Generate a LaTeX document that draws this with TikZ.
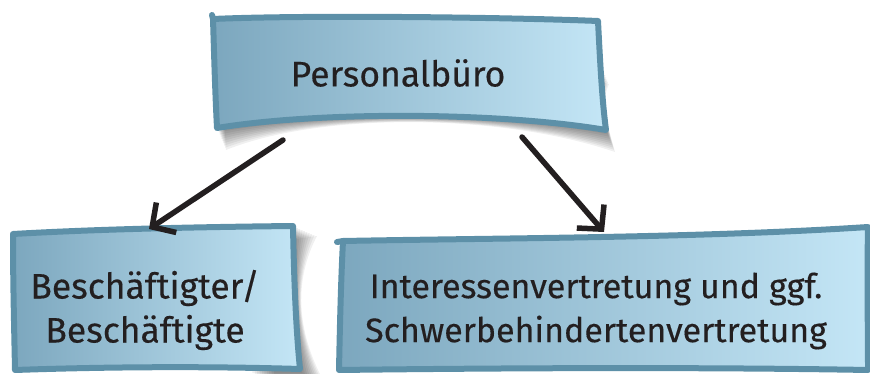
\documentclass[tikz,border=0pt]{standalone}
\usepackage{fontspec}
\setmainfont{Fira Sans}[UprightFeatures={FakeBold=0.3}]
\usetikzlibrary{arrows.meta}
\definecolor{bdr}{RGB}{93,144,168}
\definecolor{fleft}{RGB}{124,167,190}
\definecolor{fright}{RGB}{196,230,246}
\definecolor{ink}{RGB}{35,31,32}
\tikzset{
  boxshape/.style={left color=fleft, right color=fright, draw=bdr, line width=6pt, line join=round, line cap=round},
  shadowpart/.style={fill=black, opacity=0.06},
  lbl/.style={text=ink, align=center, inner sep=0pt},
  conn/.style={draw=ink, line width=5.5pt, line cap=round, -{Straight Barb[length=17pt,width=36pt,line width=5.5pt]}}
}
\begin{document}
\begin{tikzpicture}[x=1pt,y=-1pt]
\useasboundingbox (0,0) rectangle (870,374);
% shadows
\foreach \i in {1,...,10}{
  \fill[shadowpart] ([shift={(\i*0.9,\i*2.2)}]213,60) .. controls (300,58) and (500,58) .. ([shift={(\i*0.9,\i*2.2)}]600,62) .. controls (602,100) and (603,110) .. ([shift={(\i*0.9,\i*2.2)}]606,130) .. controls (500,113) and (320,112) .. ([shift={(\i*0.9,\i*2.2)}]217,128) -- cycle;
  \fill[shadowpart] ([shift={(\i*2.4,\i*1)}]250,232) -- ([shift={(\i*2.4,\i*1)}]293,226) .. controls (294,280) and (296,330) .. ([shift={(\i*2.4,\i*1)}]300,372) -- ([shift={(\i*2.4,\i*1)}]250,372) -- cycle;
}
% top box
\path[boxshape] (213,19) .. controls (300,15) and (500,17) .. (598,21)
  .. controls (600,60) and (602,100) .. (606,130)
  .. controls (500,112) and (320,111) .. (217,128)
  .. controls (215,90) and (214,50) .. (213,19) -- cycle;
\draw[bdr, line width=6pt, line cap=round] (213,19) -- (212,15);
% left box
\path[boxshape] (13,234) .. controls (100,229) and (200,227) .. (293,226)
  .. controls (294,280) and (296,330) .. (300,369)
  .. controls (200,366) and (100,367) .. (15,370)
  .. controls (14,320) and (13,280) .. (13,234) -- cycle;
% right box
\path[boxshape] (343,241) .. controls (500,238) and (700,238) .. (868,227)
  .. controls (867,280) and (868,330) .. (868,370)
  .. controls (700,367) and (500,368) .. (339,370)
  .. controls (340,320) and (341,280) .. (343,241) -- cycle;
\draw[bdr, line width=6pt, line cap=round] (343,241) -- (337,242);
% labels
\node[lbl, font=\fontsize{35.5}{42}\selectfont] (top) at (398,73) {Personalbüro};
\node[lbl, font=\fontsize{35.5}{44}\selectfont] (left) at (145,310) {Beschäftigter/\\Beschäftigte};
\node[lbl, font=\fontsize{34}{44}\selectfont] (right) at (596,311) {Interessenvertretung und ggf.\\Schwerbehindertenvertretung};
% connectors
\coordinate (ls) at (283,140);
\coordinate (le) at (149,229);
\coordinate (rs) at (522,137);
\coordinate (re) at (604,232);
\draw[conn] (ls) -- (le);
\draw[conn] (rs) -- (re);
\end{tikzpicture}
\end{document}
